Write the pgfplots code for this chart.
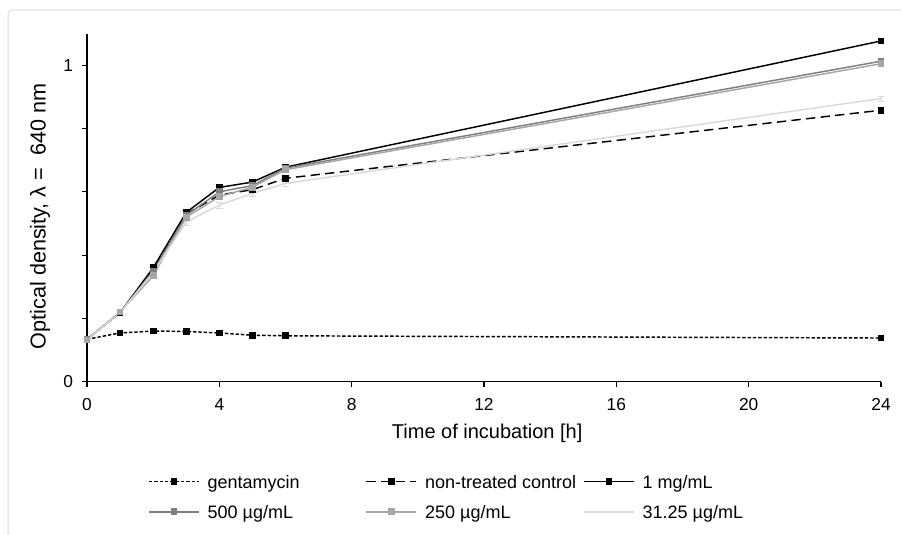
\documentclass[border=0pt]{standalone}
\usepackage{fontspec}
\setmainfont{Liberation Sans}
\usepackage{pgfplots}
\usepackage{pgfplotstable}
\pgfplotsset{compat=1.18}

\definecolor{gA}{HTML}{7F7F7F}
\definecolor{gB}{HTML}{A6A6A6}
\definecolor{gC}{HTML}{D9D9D9}
\definecolor{frameGray}{HTML}{D9D9D9}

% optical density readings (mean and error) per treatment
\pgfplotstableread{
t   gen    genE   ctl    ctlE   one    oneE   fh     fhE    th     thE    tt     ttE
0   0.134  0.002  0.134  0.003  0.134  0.003  0.134  0.003  0.132  0.003  0.134  0.003
1   0.154  0.002  0.218  0.004  0.218  0.004  0.220  0.004  0.220  0.004  0.218  0.004
2   0.160  0.002  0.355  0.006  0.360  0.006  0.350  0.006  0.335  0.008  0.345  0.006
3   0.159  0.002  0.530  0.006  0.535  0.006  0.526  0.008  0.520  0.008  0.505  0.010
4   0.154  0.002  0.590  0.008  0.614  0.006  0.600  0.008  0.585  0.008  0.558  0.010
5   0.147  0.002  0.607  0.008  0.631  0.006  0.620  0.008  0.615  0.008  0.595  0.010
6   0.145  0.002  0.643  0.006  0.678  0.006  0.675  0.008  0.670  0.008  0.627  0.010
24  0.138  0.002  0.858  0.006  1.077  0.005  1.013  0.006  1.005  0.006  0.895  0.008
}\odtable

\newcommand{\entry}[1]{\makebox[112.5pt][l]{\strut #1}}

\begin{document}
\begin{tikzpicture}
\useasboundingbox (0,0) rectangle (675.75pt,401.25pt);
\draw[frameGray, line width=0.75pt, rounded corners=3pt]
  (6pt,-10pt) -- (6pt,393.75pt) -- (700pt,393.75pt);
\begin{axis}[
  at={(65.25pt,114.98pt)}, anchor=south west,
  scale only axis, width=595.5pt, height=261pt,
  xmin=0, xmax=24, ymin=0, ymax=1.1,
  axis x line=bottom, axis y line=left,
  axis line style={-, line width=1.1pt, black},
  xtick={0,4,8,12,16,20,24},
  ytick={0,0.2,0.4,0.6,0.8,1}, yticklabels={0,,,,,1},
  tick align=outside, major tick length=4pt,
  tick style={line width=0.8pt, black},
  tick label style={font=\fontsize{13}{15}\selectfont},
  xticklabel style={yshift=-5pt},
  yticklabel style={xshift=-3pt},
  /pgf/number format/assume math mode=true,
  xlabel={Time of incubation [h]},
  ylabel={Optical density, λ =\ \ 640 nm},
  xlabel style={font=\fontsize{15}{18}\selectfont,
    at={(axis description cs:0.504,-0.1474)}, anchor=center},
  ylabel style={font=\fontsize{16.2}{19}\selectfont,
    at={(axis description cs:-0.059,0.475)}, anchor=center},
  clip=false,
  legend columns=3,
  legend style={draw=none, fill=none, inner sep=0pt,
    at={(axis description cs:0.0768,-0.262)}, anchor=north west,
    font=\fontsize{13.5}{16}\selectfont,
    nodes={inner sep=0pt},
    /tikz/column sep=6pt, /tikz/row sep=10pt},
  legend cell align=left,
  legend image code/.code={\draw[mark repeat=2,mark phase=2,#1]
    plot coordinates {(0pt,0pt)(18.75pt,0pt)(37.5pt,0pt)};},
  every axis plot/.append style={line width=1.1pt},
  mark size=2pt,
  error bars/error bar style={line width=0.6pt, solid},
  error bars/error mark options={rotate=90, mark size=2.5pt, line width=0.6pt},
]
\addplot[black, dash pattern=on 2.5pt off 1.5pt, mark=square*, mark options={solid},
  error bars/.cd, y dir=both, y explicit]
  table[x=t, y=gen, y error=genE] {\odtable};
\addlegendentry{\entry{gentamycin}}
\addplot[black, dash pattern=on 7pt off 4pt, mark=square*, mark options={solid},
  error bars/.cd, y dir=both, y explicit]
  table[x=t, y=ctl, y error=ctlE] {\odtable};
\addlegendentry{\entry{non-treated control}}
\addplot[black, mark=square*,
  error bars/.cd, y dir=both, y explicit]
  table[x=t, y=one, y error=oneE] {\odtable};
\addlegendentry{\entry{1 mg/mL}}
\addplot[gA, mark=square*, mark options={fill=gA},
  error bars/.cd, y dir=both, y explicit]
  table[x=t, y=fh, y error=fhE] {\odtable};
\addlegendentry{\entry{500 µg/mL}}
\addplot[gB, mark=square*, mark options={fill=gB},
  error bars/.cd, y dir=both, y explicit]
  table[x=t, y=th, y error=thE] {\odtable};
\addlegendentry{\entry{250 µg/mL}}
\addplot[gC, mark=none,
  error bars/.cd, y dir=both, y explicit]
  table[x=t, y=tt, y error=ttE] {\odtable};
\addlegendentry{\entry{31.25 µg/mL}}
\end{axis}
\end{tikzpicture}
\end{document}
